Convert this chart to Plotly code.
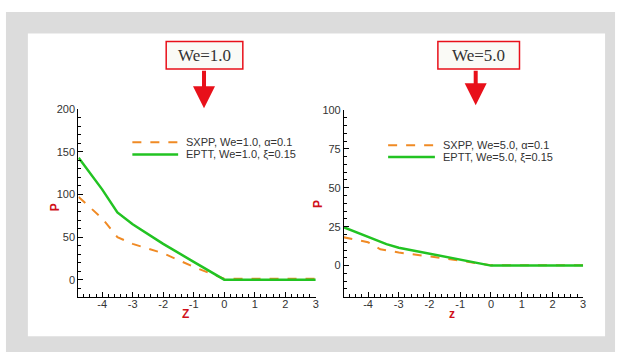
import plotly.graph_objects as go

# ---- data ----
z_eptt_we1 = [-4.77, -4.0, -3.5, -3.0, -2.0, -1.5, -1.0, 0.0, 3.0]
p_eptt_we1 = [143, 106, 79, 65, 42, 31, 21, 0, 0]
z_sxpp_we1 = [-4.77, -4.0, -3.5, -3.0, -2.0, -1.0, -0.5, 0.0, 3.0]
p_sxpp_we1 = [97, 72, 50, 42, 31, 15, 8, 1.2, 1.2]

z_eptt_we5 = [-4.8, -4.0, -3.4, -3.0, -2.0, -1.0, 0.0, 3.0]
p_eptt_we5 = [24.7, 18.6, 13.8, 11.5, 7.7, 3.6, 0, 0]
z_sxpp_we5 = [-4.8, -4.0, -3.6, -3.0, -2.0, -1.0, -0.5, 0.0, 3.0]
p_sxpp_we5 = [18.2, 15.0, 10.5, 8.4, 5.9, 3.1, 1.7, 0.3, 0.3]

legend_we1 = ["SXPP, We=1.0, \u03b1=0.1", "EPTT, We=1.0, \u03be=0.15"]
legend_we5 = ["SXPP, We=5.0, \u03b1=0.1", "EPTT, We=5.0, \u03be=0.15"]
titles = ["We=1.0", "We=5.0"]
xticks = [-4, -3, -2, -1, 0, 1, 2, 3]
yticks1 = [0, 50, 100, 150, 200]
yticks2 = [0, 25, 50, 75, 100]

W, H = 624, 358
ORANGE = "#f08a24"
GREEN = "#22c322"
RED = "#e8101a"
TXT = "#333333"

def px(x):
    return x / W

def py(y):
    return 1 - y / H

fig = go.Figure()
fig.add_trace(go.Scatter(x=z_sxpp_we1, y=p_sxpp_we1, mode="lines", xaxis="x", yaxis="y",
                         line=dict(color=ORANGE, width=2, dash="dash"), showlegend=False))
fig.add_trace(go.Scatter(x=z_eptt_we1, y=p_eptt_we1, mode="lines", xaxis="x", yaxis="y",
                         line=dict(color=GREEN, width=2.5), showlegend=False))
fig.add_trace(go.Scatter(x=z_sxpp_we5, y=p_sxpp_we5, mode="lines", xaxis="x2", yaxis="y2",
                         line=dict(color=ORANGE, width=2, dash="dash"), showlegend=False))
fig.add_trace(go.Scatter(x=z_eptt_we5, y=p_eptt_we5, mode="lines", xaxis="x2", yaxis="y2",
                         line=dict(color=GREEN, width=2.5), showlegend=False))

tickfont = dict(family="Arial, Liberation Sans, sans-serif", size=11, color=TXT)

def xaxis(domain, anchor):
    return dict(domain=domain, anchor=anchor, range=[-4.78, 3.0],
                tickvals=xticks, ticktext=[str(v) for v in xticks],
                ticks="inside", ticklen=5, tickcolor="black", tickwidth=1,
                showline=True, linecolor="black", linewidth=1.2,
                showgrid=False, zeroline=False, tickfont=tickfont, ticklabelstandoff=-3,
                minor=dict(dtick=0.2, ticks="inside", ticklen=3, tickcolor="black", showgrid=False))

def yaxis(domain, anchor, rng, tv, mdt):
    return dict(domain=domain, anchor=anchor, range=rng, tickvals=tv,
                ticktext=[str(v) for v in tv],
                ticks="inside", ticklen=5, tickcolor="black", tickwidth=1,
                showline=True, linecolor="black", linewidth=1.2,
                showgrid=False, zeroline=False, tickfont=tickfont,
                minor=dict(dtick=mdt, ticks="inside", ticklen=3, tickcolor="black", showgrid=False))

shapes = [
    dict(type="rect", xref="paper", yref="paper", x0=px(6), x1=px(618), y0=py(352), y1=py(6),
         fillcolor="#dcdcdc", line=dict(width=0), layer="below"),
    dict(type="rect", xref="paper", yref="paper", x0=px(28), x1=px(608), y0=py(336), y1=py(28),
         fillcolor="white", line=dict(width=0), layer="below"),
]
annotations = []

legend_font = dict(family="Arial, Liberation Sans, sans-serif", size=11, color=TXT)
# legends (manual, tight spacing like the reference)
for labels, lx0, lx1, tx, ys in [(legend_we1, 133, 179, 185, (138.5, 151)),
                                  (legend_we5, 390, 437, 443, (141.5, 153.5))]:
    for i, (lab, yy) in enumerate(zip(labels, ys)):
        shapes.append(dict(type="line", xref="paper", yref="paper", x0=px(lx0), x1=px(lx1),
                           y0=py(yy), y1=py(yy),
                           line=dict(color=ORANGE if i == 0 else GREEN,
                                     width=2 if i == 0 else 2.5,
                                     dash="dash" if i == 0 else "solid")))
        annotations.append(dict(xref="paper", yref="paper", x=px(tx), y=py(yy), text=lab,
                                showarrow=False, xanchor="left", yanchor="middle", font=legend_font))

# title boxes and arrows
for title, cx, bx0, bx1, ax_x, tip in [(titles[0], 205.5, 167, 244, 205, 104),
                                       (titles[1], 481, 440, 522, 478, 101)]:
    shapes.append(dict(type="rect", xref="paper", yref="paper", x0=px(bx0), x1=px(bx1),
                       y0=py(64), y1=py(36), fillcolor="#fafaf6", line=dict(color=RED, width=1.5)))
    annotations.append(dict(xref="paper", yref="paper", x=px(cx), y=py(50), text=title,
                            showarrow=False, xanchor="center", yanchor="middle",
                            font=dict(family="Liberation Serif, Times New Roman, serif", size=17, color="#333")))
    annotations.append(dict(xref="paper", yref="paper", x=px(ax_x), y=py(tip), text="",
                            showarrow=True, axref="pixel", ayref="pixel", ax=0, ay=-(tip - 65),
                            arrowhead=2, arrowsize=1.1, arrowwidth=4, arrowcolor=RED))

# axis labels
lab_font = dict(family="Arial, Liberation Sans, sans-serif", size=12, color="#d0101a")
for (x, y, t, ang) in [(55, 205, "P", -90), (186, 313, "Z", 0), (319, 201, "P", -90), (454, 313, "z", 0)]:
    annotations.append(dict(xref="paper", yref="paper", x=px(x), y=py(y), text="<b>%s</b>" % t,
                            showarrow=False, xanchor="center", yanchor="middle", textangle=ang,
                            font=lab_font))

fig.update_layout(
    width=W, height=H, margin=dict(l=0, r=0, t=0, b=0),
    paper_bgcolor="white", plot_bgcolor="rgba(0,0,0,0)",
    xaxis=xaxis([px(78.7), px(317.3)], "y"),
    yaxis=yaxis([py(295.7), py(105)], "x", [-20, 200], yticks1, 10),
    xaxis2=xaxis([px(345.7), px(586)], "y2"),
    yaxis2=yaxis([py(295.7), py(105.7)], "x2", [-20, 100], yticks2, 5),
    shapes=shapes, annotations=annotations, showlegend=False,
)

fig.write_html("out.html", config={"displayModeBar": False},
               post_script="document.body.style.margin='0';document.body.style.overflow='hidden';")
